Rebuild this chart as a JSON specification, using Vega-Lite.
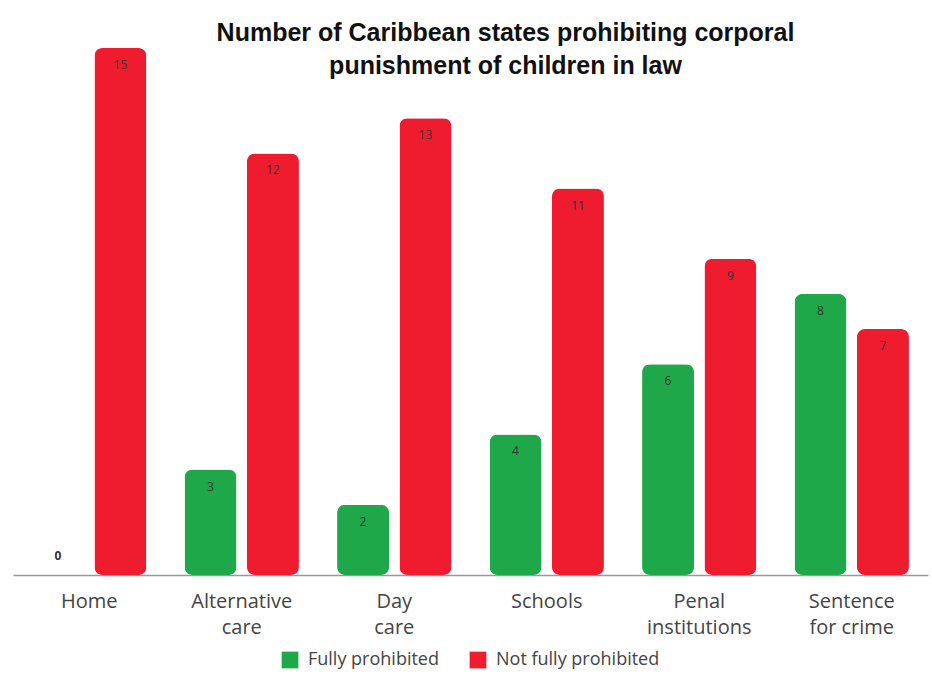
{
  "$schema": "https://vega.github.io/schema/vega-lite/v6.json",
  "width": 915,
  "height": 527,
  "autosize": "none",
  "padding": {"left": 13, "top": 48, "right": 4, "bottom": 100},
  "background": "white",
  "title": {
    "text": ["Number of Caribbean states prohibiting corporal", "punishment of children in law"],
    "font": "Liberation Sans",
    "fontSize": 25,
    "fontWeight": "bold",
    "color": "#111",
    "lineHeight": 33,
    "offset": -31,
    "dx": 35,
    "anchor": "middle"
  },
  "data": {
    "values": [
      {"setting": "Home", "status": "Fully prohibited", "value": 0},
      {"setting": "Home", "status": "Not fully prohibited", "value": 15},
      {"setting": "Alternative care", "status": "Fully prohibited", "value": 3},
      {"setting": "Alternative care", "status": "Not fully prohibited", "value": 12},
      {"setting": "Day care", "status": "Fully prohibited", "value": 2},
      {"setting": "Day care", "status": "Not fully prohibited", "value": 13},
      {"setting": "Schools", "status": "Fully prohibited", "value": 4},
      {"setting": "Schools", "status": "Not fully prohibited", "value": 11},
      {"setting": "Penal institutions", "status": "Fully prohibited", "value": 6},
      {"setting": "Penal institutions", "status": "Not fully prohibited", "value": 9},
      {"setting": "Sentence for crime", "status": "Fully prohibited", "value": 8},
      {"setting": "Sentence for crime", "status": "Not fully prohibited", "value": 7}
    ]
  },
  "encoding": {
    "x": {
      "field": "setting",
      "type": "nominal",
      "sort": null,
      "scale": {"paddingInner": 0.25, "paddingOuter": 0.125},
      "axis": {
        "title": null,
        "labelAngle": 0,
        "ticks": false,
        "domainColor": "#999",
        "domainWidth": 1.5,
        "labelFont": "Open Sans",
        "labelFontSize": 20,
        "labelColor": "#444",
        "labelPadding": 16,
        "labelLineHeight": 26,
        "labelExpr": "datum.value == 'Alternative care' ? ['Alternative','care'] : datum.value == 'Day care' ? ['Day','care'] : datum.value == 'Penal institutions' ? ['Penal','institutions'] : datum.value == 'Sentence for crime' ? ['Sentence','for crime'] : datum.value"
      }
    },
    "xOffset": {
      "field": "status",
      "type": "nominal",
      "sort": ["Fully prohibited", "Not fully prohibited"],
      "scale": {"paddingInner": 0.167, "paddingOuter": 0}
    },
    "y": {
      "field": "value",
      "type": "quantitative",
      "scale": {"domain": [0, 15], "nice": false},
      "axis": null
    }
  },
  "layer": [
    {
      "mark": {"type": "bar", "cornerRadius": 8},
      "encoding": {
        "color": {
          "field": "status",
          "type": "nominal",
          "sort": ["Fully prohibited", "Not fully prohibited"],
          "scale": {"domain": ["Fully prohibited", "Not fully prohibited"], "range": ["#1fa84a", "#ee1c2e"]},
          "legend": {
            "title": null,
            "orient": "bottom",
            "direction": "horizontal",
            "symbolType": "square",
            "symbolSize": 280,
            "symbolStrokeWidth": 0,
            "labelFont": "Open Sans",
            "labelFontSize": 18,
            "labelColor": "#444",
            "labelOffset": 9,
            "labelLimit": 300,
            "columnPadding": 30,
            "offset": 14
          }
        }
      }
    },
    {
      "transform": [{"filter": "datum.value > 0"}],
      "mark": {"type": "text", "dy": 17, "fontSize": 12, "font": "Open Sans", "color": "#333", "baseline": "middle"},
      "encoding": {"text": {"field": "value", "type": "quantitative"}}
    },
    {
      "transform": [{"filter": "datum.value == 0"}],
      "mark": {"type": "text", "dy": -19, "fontSize": 12, "font": "Open Sans", "fontWeight": "bold", "color": "#333", "baseline": "middle"},
      "encoding": {"text": {"field": "value", "type": "quantitative"}}
    }
  ],
  "config": {
    "view": {"stroke": null},
    "legend": {"layout": {"bottom": {"anchor": "middle"}}}
  }
}
